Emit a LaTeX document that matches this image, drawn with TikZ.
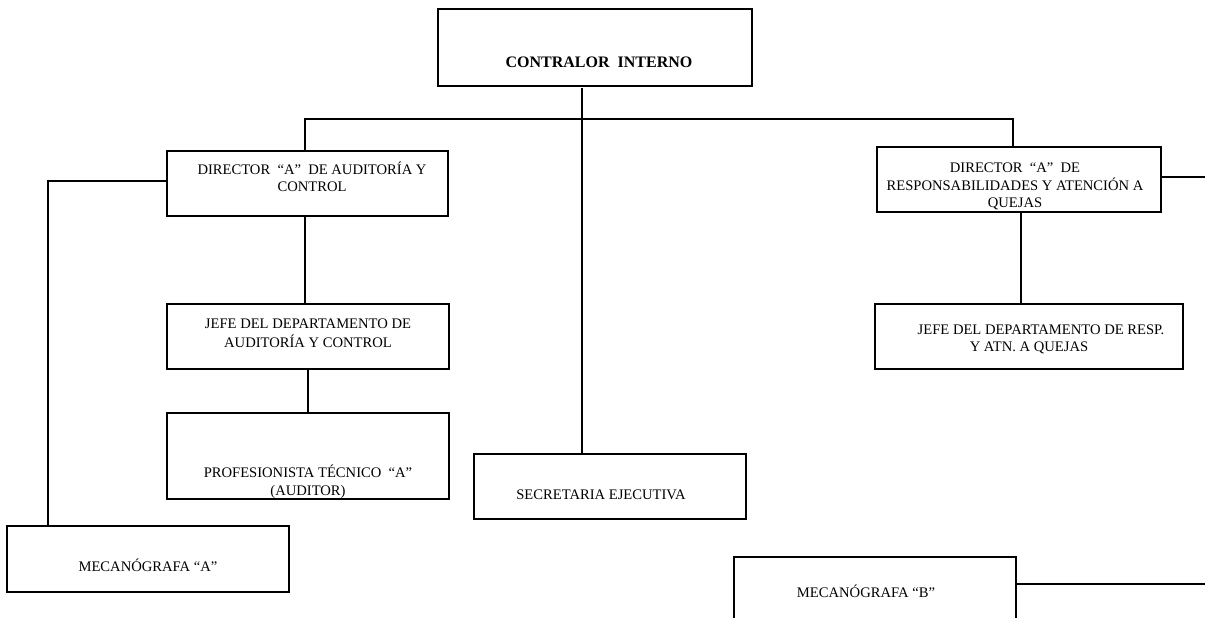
\documentclass[tikz,border=0pt]{standalone}
\usepackage{fontspec}
\setmainfont{Liberation Serif}
\usetikzlibrary{calc}
\begin{document}
\begin{tikzpicture}[x=1pt,y=-1pt,
  box/.style={draw, line width=1.4pt, rectangle, inner sep=0pt},
  txt/.style={font=\fontsize{14.6}{17.5}\selectfont, anchor=base, inner sep=0pt},
  btxt/.style={font=\fontsize{16}{19}\selectfont\bfseries, anchor=base, inner sep=0pt},
  conn/.style={line width=1.6pt}]
\clip (0,0) rectangle (1205,618);
\fill[white] (0,0) rectangle (1205,618);
% boxes
\node[box, minimum width=314pt, minimum height=77pt] (contralor) at (595,47.5) {};
\node[box, minimum width=281pt, minimum height=65pt] (dirA) at (307.5,183.5) {};
\node[box, minimum width=282pt, minimum height=65pt] (jefeA) at (308,336.5) {};
\node[box, minimum width=282pt, minimum height=86pt] (prof) at (308,456) {};
\node[box, minimum width=272pt, minimum height=65pt] (sec) at (610,486.5) {};
\node[box, minimum width=282pt, minimum height=66pt] (mecA) at (148,559) {};
\node[box, minimum width=284pt, minimum height=65pt] (dirB) at (1019,179.5) {};
\node[box, minimum width=308pt, minimum height=65pt] (jefeB) at (1029,336.5) {};
\node[box, minimum width=282pt, minimum height=93pt] (mecB) at (875,603.5) {};
% texts
\node[btxt] (tc) at (599,67) {CONTRALOR\ \ INTERNO};
\node[txt] (ta1) at (312,174) {DIRECTOR\ \ “A”\ \ DE AUDITORÍA Y};
\node[txt] (ta2) at (312,191) {CONTROL};
\node[txt] (tj1) at (308,328) {JEFE DEL DEPARTAMENTO DE};
\node[txt] (tj2) at (308,347) {AUDITORÍA Y CONTROL};
\node[txt] (tp1) at (308,477) {PROFESIONISTA TÉCNICO\ \ “A”};
\node[txt] (tp2) at (308,495) {(AUDITOR)};
\node[txt] (ts) at (601,499) {SECRETARIA EJECUTIVA};
\node[txt] (tma) at (148,571) {MECANÓGRAFA “A”};
\node[txt] (tb1) at (1015,172) {DIRECTOR\ \ “A”\ \ DE};
\node[txt] (tb2) at (1015,190) {RESPONSABILIDADES Y ATENCIÓN A};
\node[txt] (tb3) at (1015,207) {QUEJAS};
\node[txt] (tjb1) at (1041,334) {JEFE DEL DEPARTAMENTO DE RESP.};
\node[txt] (tjb2) at (1029,351) {Y ATN. A QUEJAS};
\node[txt] (tmb) at (866,597) {MECANÓGRAFA “B”};
% junction coordinates
\coordinate (vmain) at (582,88);
\coordinate (busL) at (305,119);
\coordinate (busR) at (1013,119);
\coordinate (lA) at (48,181);
\coordinate (vA) at (305,0);
\coordinate (vA2) at (308,0);
\coordinate (vB) at (1021,0);
\coordinate (rB) at (1205,177);
\coordinate (rM) at (1205,584);
% connectors
\draw[conn] (vmain) -- (vmain |- sec.north);
\draw[conn] (busL |- dirA.north) -- (busL) -- (busR) -- (busR |- dirB.north);
\draw[conn] (dirA.west |- lA) -- (lA) -- (lA |- mecA.north);
\draw[conn] (vA |- dirA.south) -- (vA |- jefeA.north);
\draw[conn] (vA2 |- jefeA.south) -- (vA2 |- prof.north);
\draw[conn] (dirB.east |- rB) -- (rB);
\draw[conn] (vB |- dirB.south) -- (vB |- jefeB.north);
\draw[conn] (mecB.east |- rM) -- (rM);
\end{tikzpicture}
\end{document}
